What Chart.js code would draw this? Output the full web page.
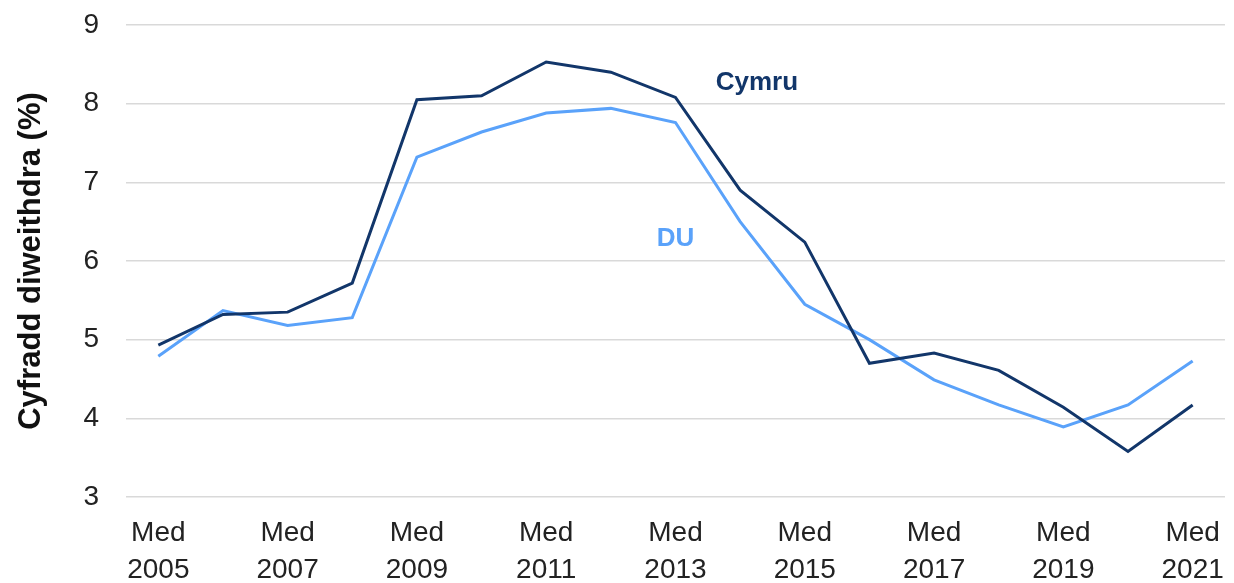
<!DOCTYPE html>
<html>
<head>
<meta charset="utf-8">
<script src="https://cdn.jsdelivr.net/npm/chart.js@4"></script>
<style>
  html, body { margin: 0; padding: 0; background: #fff; }
  #wrap { width: 1234px; height: 583px; }
</style>
</head>
<body>
<div id="wrap"><canvas id="chart"></canvas></div>
<script>
// 年（9月時点）
const years = ['2005','2006','2007','2008','2009','2010','2011','2012','2013',
               '2014','2015','2016','2017','2018','2019','2020','2021'];
// 失業率 (%)
const cymru = [4.93, 5.32, 5.35, 5.72, 8.05, 8.10, 8.53, 8.40, 8.08,
               6.90, 6.24, 4.70, 4.83, 4.61, 4.14, 3.58, 4.17];
const du    = [4.79, 5.37, 5.18, 5.28, 7.32, 7.64, 7.88, 7.94, 7.76,
               6.50, 5.45, 5.00, 4.49, 4.17, 3.89, 4.17, 4.73];
const yTicks = [3, 4, 5, 6, 7, 8, 9];

const NAVY = '#12366a';
const BLUE = '#5aa2fa';
const FONT = '"Liberation Sans", Arial, sans-serif';

// 系列名をグラフ内に直接描く
const seriesLabels = {
    id: 'seriesLabels',
    afterDatasetsDraw(chart) {
        const { ctx, scales: { x, y } } = chart;
        ctx.save();
        ctx.font = 'bold 26px ' + FONT;
        ctx.textAlign = 'center';
        ctx.textBaseline = 'alphabetic';
        ctx.fillStyle = NAVY;
        ctx.fillText('Cymru', x.getPixelForValue(9.26), y.getPixelForValue(8.18));
        ctx.fillStyle = BLUE;
        ctx.fillText('DU', x.getPixelForValue(8.0), y.getPixelForValue(6.19));
        ctx.restore();
    }
};

new Chart(document.getElementById('chart'), {
    type: 'line',
    data: {
        labels: years.map(y => ['Med', y]),
        datasets: [
            { label: 'Cymru', data: cymru, borderColor: NAVY, borderWidth: 3, pointRadius: 0, tension: 0 },
            { label: 'DU', data: du, borderColor: BLUE, borderWidth: 3, pointRadius: 0, tension: 0 }
        ]
    },
    options: {
        responsive: true,
        maintainAspectRatio: false,
        animation: false,
        layout: { padding: { top: 25, right: 7, bottom: 0, left: 0 } },
        plugins: { legend: { display: false }, tooltip: { enabled: false } },
        scales: {
            x: {
                offset: true,
                grid: { display: false },
                border: { display: false },
                afterFit: s => { s.height = 86; },
                ticks: {
                    autoSkip: false,
                    maxRotation: 0,
                    padding: 10,
                    color: '#222',
                    font: { family: FONT, size: 28, lineHeight: 1.32 },
                    callback: function (val, i) { return i % 2 === 0 ? this.getLabelForValue(val) : ''; }
                }
            },
            y: {
                min: 3,
                max: 9,
                afterBuildTicks: s => { s.ticks = yTicks.map(v => ({ value: v })); },
                afterFit: s => { s.width = 126; s.paddingTop = 0; s.paddingBottom = 0; },
                grid: { color: '#d9d9d9', lineWidth: 1.5, drawTicks: false },
                border: { display: false },
                ticks: {
                    padding: 27,
                    color: '#222',
                    font: { family: FONT, size: 28 }
                },
                title: {
                    display: true,
                    text: 'Cyfradd diweithdra (%)',
                    color: '#111',
                    font: { family: FONT, size: 31, weight: 'bold' },
                    padding: { top: 13, bottom: 0 }
                }
            }
        }
    },
    plugins: [seriesLabels]
});
</script>
</body>
</html>
